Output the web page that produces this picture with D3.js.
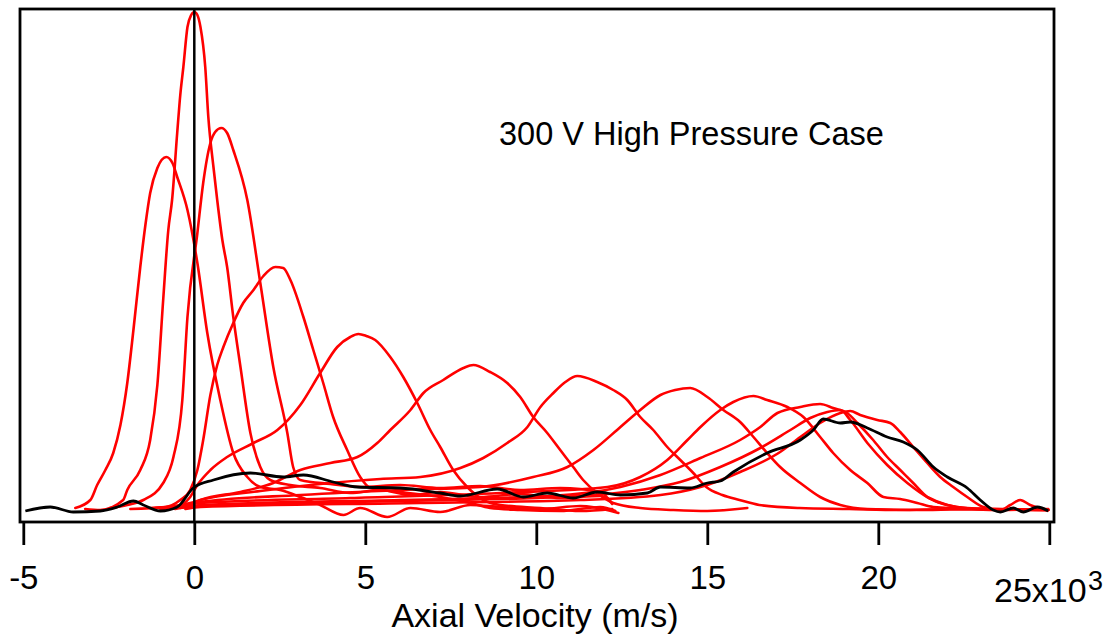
<!DOCTYPE html>
<html><head><meta charset="utf-8">
<script src="https://cdn.jsdelivr.net/npm/d3@7"></script>
<style>body{margin:0;background:#fff}svg{display:block}text{font-family:"Liberation Sans",Arial,sans-serif;fill:#000}</style>
</head><body>
<svg id="c" width="1114" height="639"></svg>
<script>
const tickValues=[-5,0,5,10,15,20,25];
const tickLabels=["-5","0","5","10","15","20",""];
const lastTickLabel="25x10", lastTickExp="3";
const xTitle="Axial Velocity (m/s)";
const annotation="300 V High Pressure Case";

const curveA=[[-3.48,0.4],[-3.04,2],[-2.84,5],[-2.60,8],[-2.37,11.4],[-2.16,17],[-1.96,25.4],[-1.78,36],[-1.58,48.6],[-1.43,57],[-1.29,63.4],[-1.08,68.4],[-0.82,70.6],[-0.64,69.4],[-0.50,66.6],[-0.20,60],[0.09,49.4],[0.38,35.4],[0.76,22],[1.14,11.4],[1.55,6.6],[1.93,4.6],[2.51,4],[3.10,2.6],[3.68,1],[4.36,-1],[4.85,0.4],[5.64,-1.4],[6.32,0.4],[7.19,-0.4],[8.07,1],[8.95,0.6],[10.12,0.2],[11.29,0.8],[12.40,-0.6]];
const curveB=[[-3.19,0.2],[-2.75,0],[-2.08,2],[-1.96,4],[-1.58,8],[-1.29,14],[-1.08,25],[-0.91,42],[-0.76,56],[-0.65,62],[-0.50,75.4],[-0.41,83],[-0.32,88.6],[-0.20,96.6],[-0.09,99],[0,99.6],[0.09,99],[0.18,96.6],[0.32,88.6],[0.41,78.6],[0.56,68.6],[0.67,62],[0.82,54],[0.96,48.6],[1.14,38.6],[1.35,28.6],[1.64,15.4],[1.93,8.6],[2.22,6],[2.81,5],[3.68,4.4],[4.56,3.4],[5.44,4],[6.32,3],[7.19,3.6],[8.36,2.6],[9.53,3.2],[10.70,2.4],[11.87,2.8],[12.16,2]];
const curveC=[[-2.46,0.4],[-1.96,1],[-1.49,2],[-0.91,5.4],[-0.61,10.6],[-0.35,22],[-0.20,38.6],[0.09,55.4],[0.26,65.4],[0.47,73.4],[0.61,75.6],[0.79,76.4],[0.96,75.4],[1.14,72],[1.55,62],[1.93,45.4],[2.31,28.6],[2.72,15.4],[2.89,8.6],[3.10,6],[3.98,5.2],[4.85,4.6],[6.02,5],[7.19,4.4],[8.36,4.8],[9.53,4],[10.70,4.4],[11.87,3.6],[12.22,1.2]];
const curveD=[[-1.87,0.2],[-0.85,0.6],[-0.41,2],[-0.12,4],[0.09,8],[0.26,14],[0.47,23],[0.67,29],[0.85,32.6],[1.14,37.4],[1.43,41.4],[1.73,44],[2.02,46.8],[2.37,48.6],[2.60,48.4],[2.81,46],[3.19,38.6],[3.48,32],[3.77,25.4],[4.06,18.6],[4.47,12],[4.85,6.6],[5.15,4.4],[6.02,3.6],[7.19,2.6],[8.07,1.4],[8.65,0.4],[9.53,0],[10.70,-0.2],[11.87,0.6],[12.31,-0.2]];
const curveE=[[-1.29,0.4],[-0.56,0.6],[-0.12,2.6],[0.09,5],[0.47,8],[0.96,10.6],[1.73,13.4],[2.43,16],[3.10,21],[3.68,27.4],[4.18,32.6],[4.56,34.6],[4.80,35.2],[5.03,34.8],[5.29,34],[5.73,30.6],[6.11,26.6],[6.52,21.4],[6.90,16],[7.19,12.6],[7.57,8],[7.98,4.6],[8.45,2],[8.95,1],[10.12,0.4],[11.29,-0.2],[12.22,0.2]];
const curveF=[[-0.99,0.2],[-0.12,1],[0.18,2],[1.35,3.6],[2.31,5.4],[3.10,8],[3.98,9.4],[4.77,10.6],[5.35,13.4],[5.73,16],[6.32,20],[6.70,23.4],[7.28,26],[7.87,28.4],[8.16,29],[8.65,27.6],[9.15,25.4],[9.53,22.6],[9.91,18.6],[10.32,15.4],[10.70,12],[11.08,8.6],[11.37,6],[11.78,3.4],[12.25,1.4],[13.04,0.4],[14.01,0],[15.00,-0.2],[16.17,0.4]];
const curveG=[[-1.14,0.4],[-0.12,1.4],[0.18,2],[1.93,3.8],[3.68,5.2],[5.44,6.2],[6.61,6.6],[7.78,8.4],[8.45,10.4],[9.15,13.4],[9.74,16.6],[10.12,20.6],[10.50,23.4],[10.85,25.6],[11.20,26.8],[11.78,25.6],[12.25,24],[12.66,22],[13.04,18.6],[13.42,16],[13.83,12.6],[14.21,10],[14.59,7.4],[14.97,4.6],[15.44,3],[15.94,2],[16.52,1],[17.69,0.4],[19.15,0.2],[20.61,0],[22.08,0.2],[23.57,0],[24.97,0.2]];
const curveH=[[-0.85,0.2],[0.18,1.6],[3.1,3],[6.02,4],[8.36,4.6],[9.91,6.6],[10.91,8.6],[11.67,12],[12.46,16.6],[13.04,20],[13.63,23],[14.06,24],[14.50,24.4],[15.00,22.6],[15.47,20],[15.96,17.6],[16.35,14.6],[16.75,11.4],[17.13,8.6],[17.72,5.4],[18.30,2.6],[18.89,1],[19.68,0.2],[21.23,0],[22.98,0.2],[24.97,0]];
const curveI=[[-0.70,0.4],[0.18,1.4],[4.56,2.4],[8.95,3.4],[12.08,4.6],[13.04,6.6],[13.83,10],[14.42,14],[14.80,16.6],[15.38,20],[15.76,21.6],[16.35,22.8],[16.75,22],[17.34,20.6],[17.81,18.6],[18.30,14.6],[18.68,11.4],[19.18,8],[19.68,5.4],[20.15,2.6],[20.64,2.2],[21.14,1.4],[21.61,0.6],[22.98,0.2],[24.97,0]];
const curveJ=[[-0.56,0.2],[0.18,1],[6.02,2],[10.41,2.8],[12.46,4.6],[13.63,7],[14.80,10.4],[15.96,14],[16.55,16.6],[17.05,19.4],[17.72,20.6],[18.30,21.2],[18.68,20.4],[19.09,19.4],[19.39,17.4],[19.85,14],[20.26,10.6],[20.64,8],[21.02,5.4],[21.43,2.6],[21.81,1.4],[22.31,0.6],[22.98,0.2],[24.97,0]];
const curveK=[[-0.41,0.4],[0.18,0.8],[6.02,1.8],[10.70,2.6],[13.04,4],[14.21,5.6],[15.38,8.6],[16.55,12.4],[17.43,16],[18.01,18.4],[18.51,19.6],[18.89,20],[19.18,18],[19.68,13.4],[20.26,9],[20.85,5.4],[21.43,2.6],[22.02,1],[22.60,0.4],[23.57,0.2],[24.97,0]];
const curveL=[[-0.26,0.2],[0.18,0.6],[6.61,1.4],[11.29,2],[13.63,3],[14.80,4.6],[15.96,7.6],[17.13,11.6],[17.72,14.6],[18.30,17.4],[18.89,19.4],[19.18,19.8],[19.47,19],[19.97,18],[20.35,17.4],[20.64,15.6],[21.02,12.6],[21.43,9.4],[21.81,6.6],[22.19,4.6],[22.60,2.6],[23.07,0.6],[23.57,0],[23.86,1],[24.15,2],[24.44,1],[24.97,0]];
const blackCurve=[[-4.94,-0.2],[-4.21,0.6],[-3.54,-0.4],[-2.75,-0.2],[-2.25,0.6],[-1.78,1.8],[-1.49,1.0],[-0.99,-0.2],[-0.50,0.6],[-0.03,4.4],[0.56,6],[1.64,7.4],[2.60,6.6],[3.19,7],[4.06,5.6],[4.77,4.6],[6.02,4.4],[7.19,3.4],[7.78,2.8],[8.86,4.2],[9.62,2.6],[10.32,3.4],[11.08,2.4],[11.78,3.6],[12.46,3.0],[13.25,3.4],[13.63,4.6],[14.50,4.4],[15.00,5.4],[15.38,5.8],[15.76,7.6],[16.75,11.4],[17.72,14],[18.10,16],[18.39,18.2],[18.89,17.4],[19.18,17.6],[19.68,16.4],[20.26,14.6],[20.73,13.6],[21.14,12],[21.61,8.6],[22.02,6.6],[22.60,4.4],[22.98,2],[23.36,0],[23.57,-0.4],[23.95,0.4],[24.24,-0.4],[24.65,0.6],[24.97,-0.2]];

const redCurves=[curveA,curveB,curveC,curveD,curveE,curveF,curveG,curveH,curveI,curveJ,curveK,curveL];

const svg=d3.select("#c");
const x=d3.scaleLinear().domain([-5,25]).range([23.3,1049.3]);
const y=d3.scaleLinear().domain([0,100]).range([510,10]);
const frame={l:20,t:9,r:1054,b:522};

const line=d3.line().x(d=>x(d[0])).y(d=>y(d[1])).curve(d3.curveMonotoneX);

const g=svg.append("g");
g.selectAll("path.red").data(redCurves).join("path").attr("class","red")
 .attr("d",line).attr("fill","none").attr("stroke","#ff0000").attr("stroke-width",2.6).attr("stroke-linejoin","round").attr("stroke-linecap","round");
g.append("path").datum(blackCurve).attr("d",line).attr("fill","none").attr("stroke","#000").attr("stroke-width",2.8).attr("stroke-linejoin","round");

// zero line
svg.append("line").attr("x1",x(0)).attr("x2",x(0)).attr("y1",frame.t).attr("y2",frame.b).attr("stroke","#000").attr("stroke-width",2.5);

// frame
svg.append("rect").attr("x",frame.l).attr("y",frame.t).attr("width",frame.r-frame.l).attr("height",frame.b-frame.t)
 .attr("fill","none").attr("stroke","#000").attr("stroke-width",2.8);

// axis
const ax=svg.append("g").attr("transform",`translate(0,${frame.b})`)
 .call(d3.axisBottom(x).tickValues(tickValues).tickSize(23).tickFormat((d,i)=>tickLabels[i]));
ax.select(".domain").remove();
ax.selectAll(".tick line").attr("stroke","#000").attr("stroke-width",2.8);
ax.selectAll(".tick text").attr("y",67).attr("dy",null).style("font-size","33px").style("font-family","'Liberation Sans',Arial,sans-serif").attr("fill","#000");

svg.append("text").attr("x",994).attr("y",602).style("font-size","34px").text(lastTickLabel);
svg.append("text").attr("x",1088).attr("y",590).style("font-size","27px").text(lastTickExp);

svg.append("text").attr("x",535).attr("y",627).attr("text-anchor","middle").style("font-size","34px").text(xTitle);
svg.append("text").attr("x",499).attr("y",145).style("font-size","32.5px").text(annotation);
</script>
</body></html>
